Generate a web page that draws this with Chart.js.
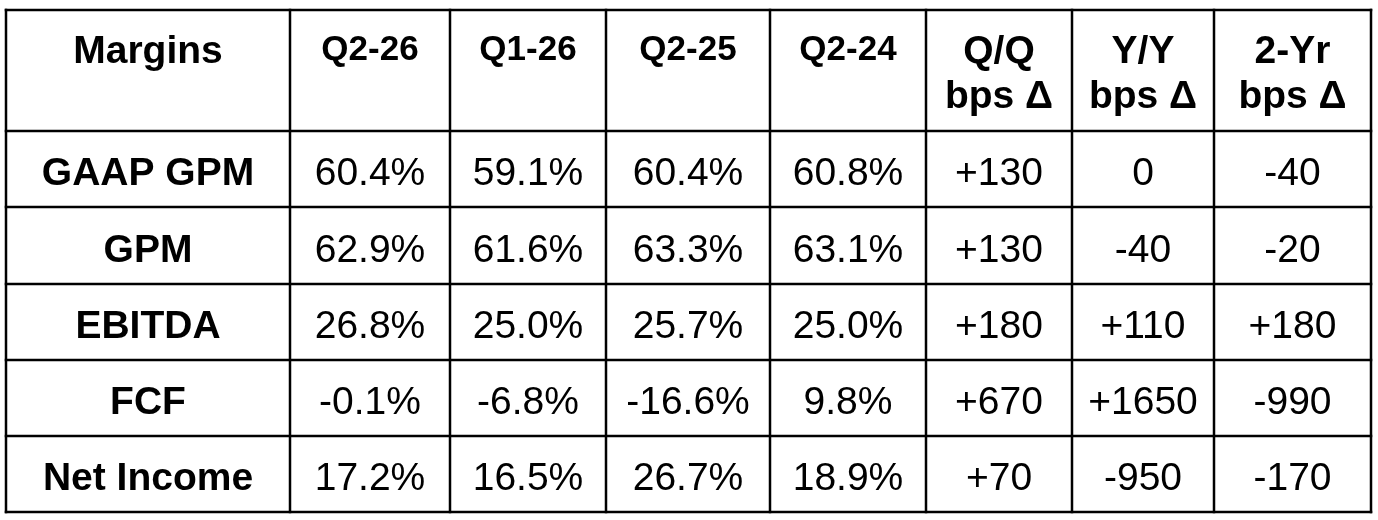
<!DOCTYPE html>
<html>
<head>
<meta charset="utf-8">
<script src="https://cdn.jsdelivr.net/npm/chart.js@4.4.1/dist/chart.umd.min.js"></script>
<style>
  html, body { margin: 0; padding: 0; background: #fff; }
  canvas { display: block; }
</style>
</head>
<body>
<canvas id="table" width="1378" height="520"></canvas>
<script>
// table content
const headers = ['Margins', 'Q2-26', 'Q1-26', 'Q2-25', 'Q2-24', 'Q/Q\nbps Δ', 'Y/Y\nbps Δ', '2-Yr\nbps Δ'];
const metrics = ['GAAP GPM', 'GPM', 'EBITDA', 'FCF', 'Net Income'];
const q2_26 = [60.4, 62.9, 26.8, -0.1, 17.2];
const q1_26 = [59.1, 61.6, 25.0, -6.8, 16.5];
const q2_25 = [60.4, 63.3, 25.7, -16.6, 26.7];
const q2_24 = [60.8, 63.1, 25.0, 9.8, 18.9];
const qqBps = [130, 130, 180, 670, 70];
const yyBps = [0, -40, 110, 1650, -950];
const twoYrBps = [-40, -20, 180, -990, -170];

// grid layout in scale units (table is 1365 x 502)
const colEdges = [0, 284, 444, 600, 764, 920, 1066, 1208, 1365];
const rowEdges = [0, 121, 197, 274, 350, 426, 502];

const pct = v => v.toFixed(1) + '%';
const bps = v => (v > 0 ? '+' : '') + v;

const columns = [
  metrics,
  q2_26.map(pct), q1_26.map(pct), q2_25.map(pct), q2_24.map(pct),
  qqBps.map(bps), yyBps.map(bps), twoYrBps.map(bps)
];

const FONT = "'Liberation Sans', Arial, sans-serif";

const tablePlugin = {
  id: 'tablePlugin',
  afterDraw(chart) {
    const { ctx, scales: { x, y } } = chart;
    const px = v => x.getPixelForValue(v);
    const py = v => y.getPixelForValue(v);

    ctx.save();
    ctx.strokeStyle = '#000';
    ctx.lineWidth = 2.5;
    // vertical lines
    colEdges.forEach(e => {
      ctx.beginPath();
      ctx.moveTo(px(e), py(rowEdges[0]) - 1.25);
      ctx.lineTo(px(e), py(rowEdges[rowEdges.length - 1]) + 1.25);
      ctx.stroke();
    });
    // horizontal lines
    rowEdges.forEach(e => {
      ctx.beginPath();
      ctx.moveTo(px(colEdges[0]) - 1.25, py(e));
      ctx.lineTo(px(colEdges[colEdges.length - 1]) + 1.25, py(e));
      ctx.stroke();
    });

    ctx.fillStyle = '#000';
    ctx.textAlign = 'center';
    ctx.textBaseline = 'alphabetic';

    // header row
    headers.forEach((h, c) => {
      const cx = px((colEdges[c] + colEdges[c + 1]) / 2);
      const top = py(rowEdges[0]);
      const lines = h.split('\n');
      if (lines.length > 1) {
        ctx.font = 'bold 39px ' + FONT;
        ctx.fillText(lines[0], cx, top + 53);
        ctx.fillText(lines[1], cx, top + 98);
      } else if (c === 0) {
        ctx.font = 'bold 39px ' + FONT;
        ctx.fillText(h, cx, top + 53);
      } else {
        ctx.font = 'bold 35px ' + FONT;
        ctx.fillText(h, cx, top + 50);
      }
    });

    // body rows
    columns.forEach((col, c) => {
      const cx = px((colEdges[c] + colEdges[c + 1]) / 2);
      ctx.font = (c === 0 ? 'bold ' : '') + '39px ' + FONT;
      col.forEach((txt, r) => {
        const cy = (py(rowEdges[r + 1]) + py(rowEdges[r + 2])) / 2;
        ctx.fillText(txt, cx, cy + 16);
      });
    });
    ctx.restore();
  }
};

new Chart(document.getElementById('table'), {
  type: 'scatter',
  data: { datasets: [{ data: [] }] },
  options: {
    responsive: false,
    animation: false,
    devicePixelRatio: 1,
    layout: { padding: { left: 6, top: 10, right: 7, bottom: 8 } },
    plugins: { legend: { display: false }, tooltip: { enabled: false } },
    scales: {
      x: { type: 'linear', display: false, min: 0, max: 1365 },
      y: { type: 'linear', display: false, min: 0, max: 502, reverse: true }
    }
  },
  plugins: [tablePlugin]
});
</script>
</body>
</html>
